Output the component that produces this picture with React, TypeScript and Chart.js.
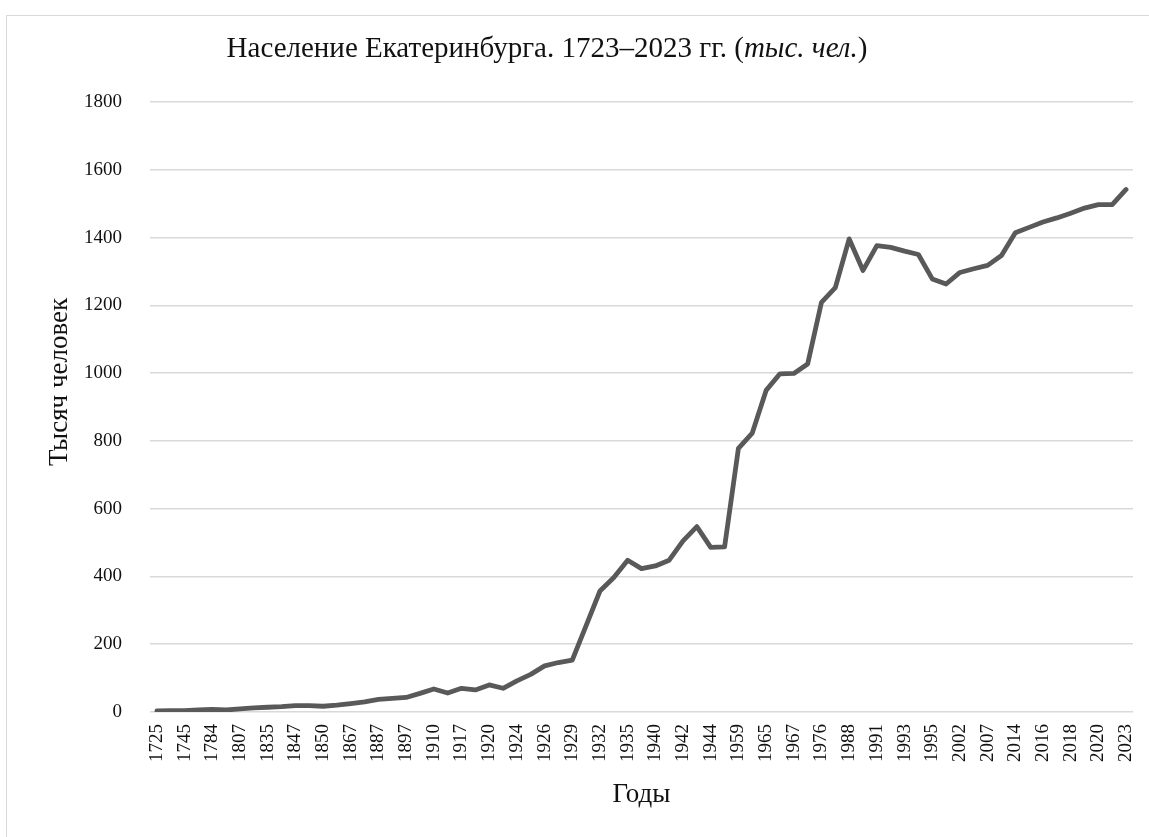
import React, { useEffect, useRef } from "react";
import { Chart, registerables } from "chart.js";

Chart.register(...registerables);

const years: string[] = [
  "1725", "1735", "1745", "1763", "1784", "1795", "1807", "1825", "1835", "1840",
  "1847", "1849", "1850", "1863", "1867", "1873", "1887", "1891", "1897", "1904",
  "1910", "1914", "1917", "1918", "1920", "1923", "1924", "1925", "1926", "1928",
  "1929", "1931", "1932", "1933", "1935", "1939", "1940", "1941", "1942", "1943",
  "1944", "1956", "1959", "1962", "1965", "1966", "1967", "1970", "1976", "1979",
  "1988", "1989", "1991", "1992", "1993", "1994", "1995", "1998", "2002", "2005",
  "2007", "2010", "2014", "2015", "2016", "2017", "2018", "2019", "2020", "2021",
  "2023",
];

const population: number[] = [
  3, 4, 4, 6, 8, 6, 9, 12, 14, 16,
  19, 19, 17, 20, 25, 30, 37, 40, 43, 55,
  68, 56, 70, 65, 80, 70, 92, 111, 136, 146,
  153, 255, 357, 397, 448, 423, 431, 448, 505, 547,
  486, 487, 778, 823, 949, 998, 999, 1027, 1209, 1252,
  1396, 1303, 1376, 1371, 1360, 1350, 1278, 1263, 1297, 1308,
  1318, 1347, 1414, 1430, 1446, 1458, 1472, 1487, 1497, 1497,
  1542,
];

const yTicks: number[] = [0, 200, 400, 600, 800, 1000, 1200, 1400, 1600, 1800];

const titleParts: { text: string; italic: boolean }[] = [
  { text: "Население Екатеринбурга. 1723–2023 гг. (", italic: false },
  { text: "тыс. чел.", italic: true },
  { text: ")", italic: false },
];

const yAxisTitle = "Тысяч человек";
const xAxisTitle = "Годы";

const SERIF = "'Liberation Serif', 'Times New Roman', serif";
const TEXT = "#111";

const textPlugin = {
  id: "textDecor",
  afterDraw(chart: any) {
    const ctx = chart.ctx as CanvasRenderingContext2D;
    const area = chart.chartArea;
    ctx.save();
    // main title with italic part
    const size = 29;
    const fonts = titleParts.map((p) => `${p.italic ? "italic " : ""}${size}px ${SERIF}`);
    let total = 0;
    const widths = titleParts.map((p, i) => {
      ctx.font = fonts[i];
      const w = ctx.measureText(p.text).width;
      total += w;
      return w;
    });
    let x = 547 - total / 2;
    ctx.fillStyle = TEXT;
    ctx.textBaseline = "alphabetic";
    ctx.textAlign = "left";
    titleParts.forEach((p, i) => {
      ctx.font = fonts[i];
      ctx.fillText(p.text, x, 57);
      x += widths[i];
    });

    // x axis title
    ctx.font = `27px ${SERIF}`;
    ctx.textAlign = "center";
    ctx.textBaseline = "middle";
    ctx.fillText(xAxisTitle, (area.left + area.right) / 2, 795);

    // y axis title
    ctx.translate(60, 382);
    ctx.rotate(-Math.PI / 2);
    ctx.fillText(yAxisTitle, 0, 0);
    ctx.restore();
  },
};

export default function App() {
  const canvasRef = useRef<HTMLCanvasElement | null>(null);

  useEffect(() => {
    if (!canvasRef.current) return;
    const chart = new Chart(canvasRef.current, {
      type: "line",
      data: {
        labels: years,
        datasets: [
          {
            data: population,
            borderColor: "#595959",
            borderWidth: 4.8,
            pointRadius: 0,
            tension: 0,
            borderJoinStyle: "round",
            borderCapStyle: "round",
            fill: false,
          },
        ],
      },
      options: {
        animation: false,
        responsive: false,
        maintainAspectRatio: false,
        layout: { padding: { left: 56, right: 16, top: 102, bottom: 63 } },
        plugins: {
          legend: { display: false },
          tooltip: { enabled: false },
          title: { display: false },
        },
        scales: {
          x: {
            type: "category",
            offset: true,
            grid: { display: false, drawTicks: false },
            border: { display: false },
            afterFit: (scale: any) => {
              scale.paddingLeft = 0;
              scale.paddingRight = 0;
            },
            ticks: {
              autoSkip: false,
              maxRotation: 90,
              minRotation: 90,
              padding: 12,
              color: TEXT,
              font: { family: SERIF, size: 19 },
              callback: (_v: any, i: number) => (i % 2 === 0 ? years[i] : ""),
            },
          },
          y: {
            min: 0,
            max: 1800,
            grid: { color: "#d9d9d9", lineWidth: 1.5, drawTicks: false },
            border: { display: false },
            afterBuildTicks: (scale: any) => {
              scale.ticks = yTicks.map((v) => ({ value: v }));
            },
            afterFit: (scale: any) => {
              scale.paddingTop = 0;
              scale.paddingBottom = 0;
            },
            ticks: {
              padding: 28,
              color: TEXT,
              font: { family: SERIF, size: 19 },
              callback: (v: any) => String(v),
            },
          },
        },
      },
      plugins: [textPlugin],
    });
    return () => chart.destroy();
  }, []);

  return (
    <div style={{ position: "absolute", left: 0, top: 0, width: 1149, height: 837, background: "#fff", overflow: "hidden" }}>
      <div style={{ position: "absolute", left: 6, top: 15, width: 1160, height: 840, border: "1px solid #d9d9d9", boxSizing: "border-box" }} />
      <canvas ref={canvasRef} width={1149} height={837} style={{ position: "absolute", left: 0, top: 0, width: 1149, height: 837 }} />
    </div>
  );
}
